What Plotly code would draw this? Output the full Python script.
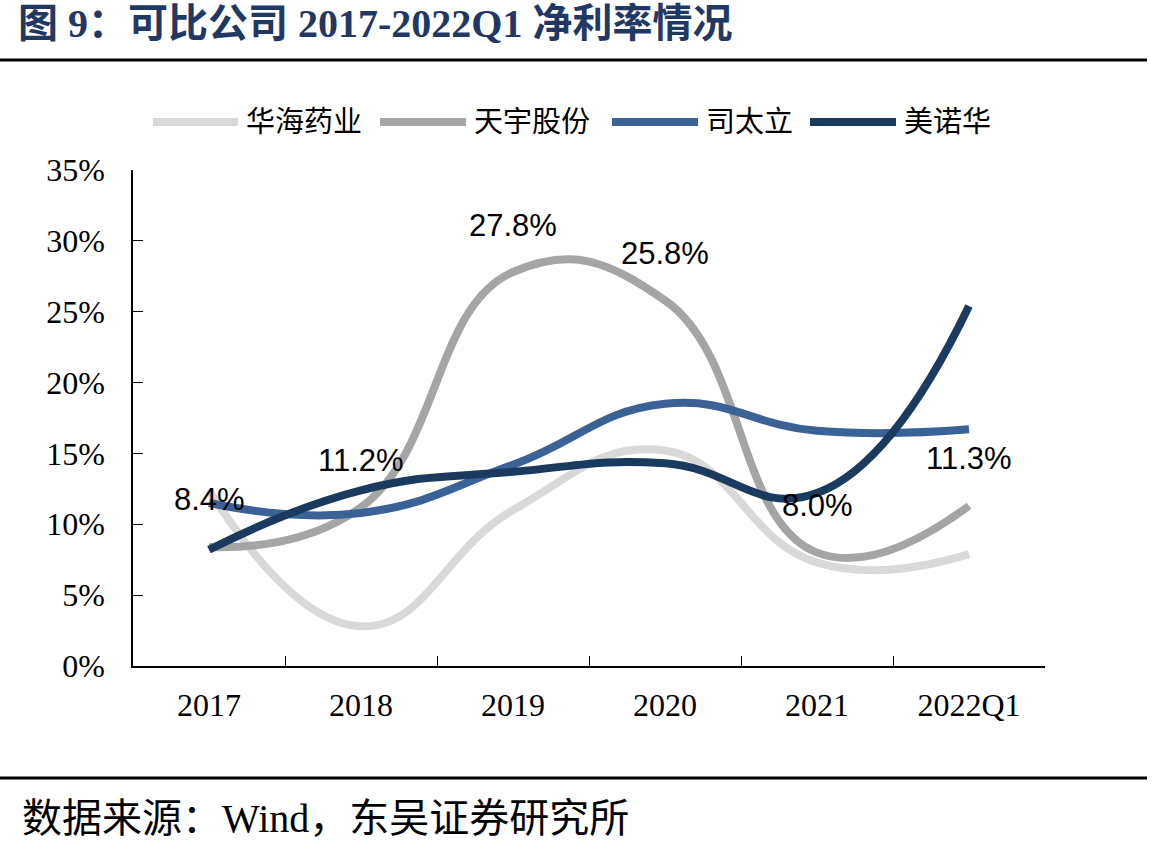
import plotly.graph_objects as go

categories = ["2017", "2018", "2019", "2020", "2021", "2022Q1"]
huahai = [0.124, 0.028, 0.110, 0.152, 0.073, 0.079]
tianyu = [0.084, 0.112, 0.278, 0.258, 0.080, 0.113]
sitaili = [0.115, 0.108, 0.142, 0.185, 0.166, 0.167]
meinuohua = [0.082, 0.124, 0.137, 0.143, 0.122, 0.254]
tianyu_labels = ["8.4%", "11.2%", "27.8%", "25.8%", "8.0%", "11.3%"]
series_names = ["华海药业", "天宇股份", "司太立", "美诺华"]
y_ticks = [0, 0.05, 0.10, 0.15, 0.20, 0.25, 0.30, 0.35]
y_tick_text = ["0%", "5%", "10%", "15%", "20%", "25%", "30%", "35%"]

colors = ["#d9d9d9", "#a5a5a5", "#3a6296", "#1b3a60"]
values = [huahai, tianyu, sitaili, meinuohua]

SERIF = "Liberation Serif, Times New Roman, Noto Sans CJK SC, serif"
CJK = "Liberation Serif, Noto Sans CJK SC, serif"

W, H = 1157, 852
L, R, T, B = 133, 1045, 170, 666
def px(x):
    return (x - L) / (R - L)
def py(y):
    return (B - y) / (B - T)

fig = go.Figure()
for name, vals, color in zip(series_names, values, colors):
    fig.add_trace(go.Scatter(
        x=categories, y=vals, name=name, mode="lines", showlegend=False,
        line=dict(color=color, width=8, shape="spline", smoothing=1.3),
    ))

for i, (v, t) in enumerate(zip(tianyu, tianyu_labels)):
    fig.add_annotation(x=i, y=v, text=t, showarrow=False, yshift=47,
                       font=dict(family="Liberation Sans, Arial, sans-serif", size=31, color="#000000"))

# legend (manual, to match long line samples)
legend_line_x = [(153, 238), (380, 466), (612, 698), (810, 896)]
legend_y = 122
for (x0, x1), name, color in zip(legend_line_x, series_names, colors):
    fig.add_shape(type="line", xref="paper", yref="paper", x0=px(x0), x1=px(x1),
                  y0=py(legend_y), y1=py(legend_y), line=dict(color=color, width=8))
    fig.add_annotation(xref="paper", yref="paper", x=px(x1 + 6), y=py(legend_y),
                       xanchor="left", yanchor="middle", text=name, showarrow=False,
                       font=dict(family=CJK, size=29, color="#000000"))

fig.add_annotation(xref="paper", yref="paper", x=px(16), y=py(24), xanchor="left", yanchor="middle",
                   text="<b>图 9：可比公司 2017-2022Q1 净利率情况</b>", showarrow=False,
                   font=dict(family=CJK, size=40, color="#1f3864"))
fig.add_annotation(xref="paper", yref="paper", x=px(20), y=py(818), xanchor="left", yanchor="middle",
                   text="数据来源：Wind，东吴证券研究所", showarrow=False,
                   font=dict(family=CJK, size=40, color="#000000"))
fig.add_shape(type="line", xref="paper", yref="paper", x0=px(0), x1=px(1147), y0=py(60), y1=py(60),
              line=dict(color="#000000", width=3))
fig.add_shape(type="line", xref="paper", yref="paper", x0=px(0), x1=px(1147), y0=py(778), y1=py(778),
              line=dict(color="#000000", width=3))

fig.update_layout(
    width=W, height=H,
    margin=dict(l=L, r=W - R, t=T, b=H - B),
    paper_bgcolor="white", plot_bgcolor="white",
    showlegend=False,
    xaxis=dict(type="category", showline=True, linecolor="#000000", linewidth=1.5,
               ticks="inside", tickson="boundaries", ticklen=10, tickcolor="#000000",
               showgrid=False, zeroline=False, mirror=False, ticklabelstandoff=10,
               tickfont=dict(family=SERIF, size=32, color="#000000"),
               range=[-0.5, 5.5]),
    yaxis=dict(range=[0, 0.35], tickvals=y_ticks, ticktext=y_tick_text,
               showline=True, linecolor="#000000", linewidth=1.5,
               ticks="inside", ticklen=10, tickcolor="#000000",
               showgrid=False, zeroline=False, ticklabelstandoff=20,
               tickfont=dict(family=SERIF, size=32, color="#000000")),
)

fig.write_html("out.html")
